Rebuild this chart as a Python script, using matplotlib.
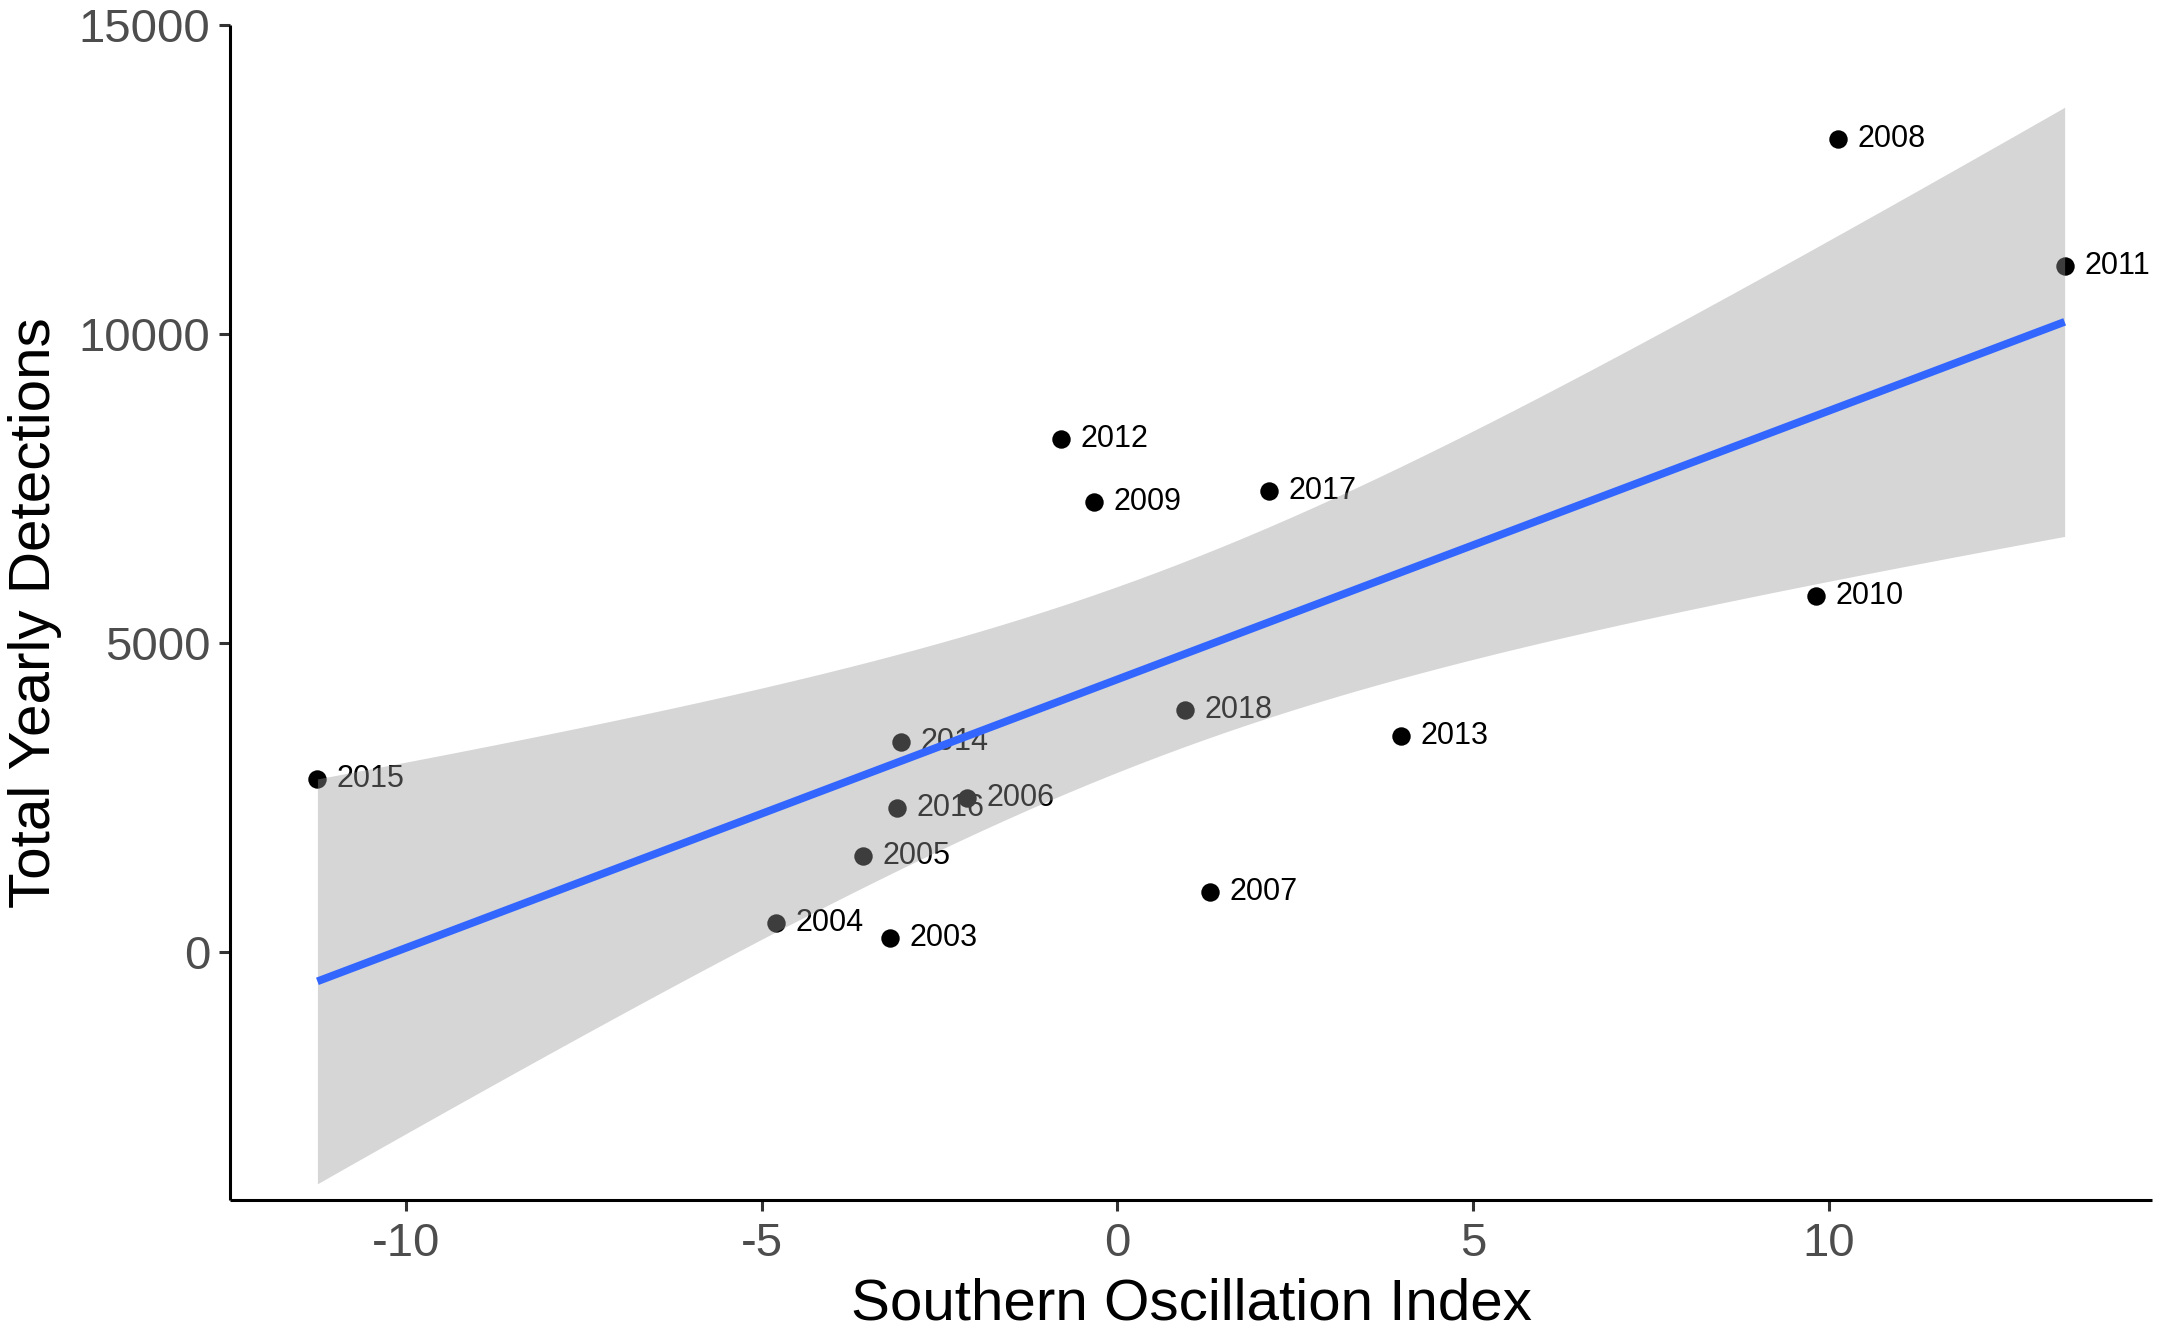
import matplotlib.pyplot as plt
import numpy as np

# valores
anos = ["2015", "2014", "2016", "2006", "2005", "2004", "2003", "2012",
        "2009", "2017", "2018", "2013", "2007", "2010", "2008", "2011"]
soi = [-11.25, -3.04, -3.10, -2.11, -3.58, -4.80, -3.20, -0.79,
       -0.33, 2.13, 0.95, 3.99, 1.30, 9.82, 10.13, 13.32]
deteccoes = [2790, 3393, 2321, 2478, 1540, 469, 223, 8304,
             7277, 7455, 3906, 3482, 960, 5759, 13147, 11094]

x_ticks = [-10, -5, 0, 5, 10]
y_ticks = [0, 5000, 10000, 15000]

plt.rcParams['font.family'] = ['Liberation Sans', 'DejaVu Sans']

x = np.array(soi)
y = np.array(deteccoes)

# regressão linear com intervalo de confiança de 95%
n = len(x)
b, a = np.polyfit(x, y, 1)
residuos = y - (a + b * x)
s = np.sqrt(np.sum(residuos ** 2) / (n - 2))
t_crit = 2.1448  # t(0.975, 14)
xs = np.linspace(x.min(), x.max(), 80)
ys = a + b * xs
se = s * np.sqrt(1 / n + (xs - x.mean()) ** 2 / np.sum((x - x.mean()) ** 2))

fig = plt.figure(figsize=(10.8, 6.64), dpi=200)
ax = fig.add_axes([0.1065, 0.0965, 0.8898, 0.8847])

ax.scatter(x, y, s=44, color='black', zorder=2, linewidths=0)
for ano, xi, yi in zip(anos, x, y):
    ax.annotate(ano, (xi, yi), xytext=(7, 0), textcoords='offset points',
                ha='left', va='center', fontsize=11, color='black', zorder=2)

ax.fill_between(xs, ys - t_crit * se, ys + t_crit * se, color='#999999',
                alpha=0.4, linewidth=0, zorder=3)
ax.plot(xs, ys, color='#3366FF', linewidth=2.8, zorder=4, solid_capstyle='butt')

faixa = x.max() - x.min()
ax.set_xlim(x.min() - 0.05 * faixa, x.max() + 0.05 * faixa)
ax.set_ylim(-4020, 15000)
ax.set_xticks(x_ticks)
ax.set_yticks(y_ticks)
ax.set_xticklabels(["-10", "-5", "0", "5", "10"])

for lado in ['top', 'right']:
    ax.spines[lado].set_visible(False)
for lado in ['left', 'bottom']:
    ax.spines[lado].set_linewidth(1.1)
    ax.spines[lado].set_color('black')
    ax.spines[lado].set_capstyle('butt')

ax.tick_params(axis='both', length=4, width=1.1, color='#333333',
               labelsize=17, labelcolor='#4D4D4D', pad=3)
ax.tick_params(axis='x', pad=4)

ax.set_xlabel("Southern Oscillation Index", fontsize=21, color='black', labelpad=4)
ax.set_ylabel("Total Yearly Detections", fontsize=21, color='black', labelpad=6)

fig.savefig("out.png", dpi=200)
